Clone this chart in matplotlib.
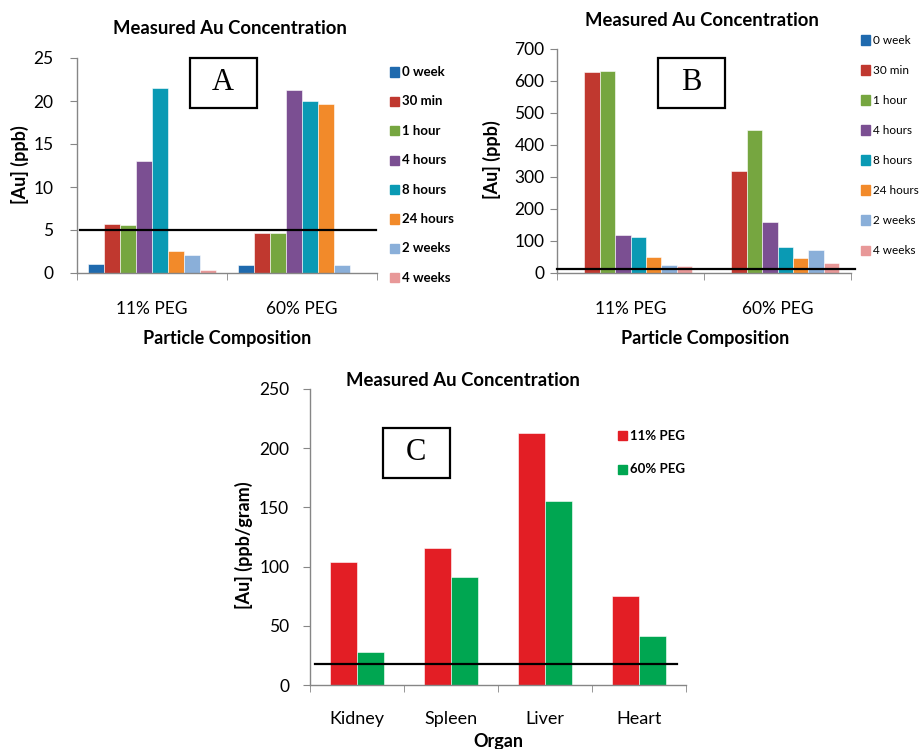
import matplotlib
matplotlib.use("Agg")
import matplotlib.pyplot as plt
import numpy as np
from matplotlib.patches import Rectangle

plt.rcParams['font.family'] = ['Lato', 'DejaVu Sans']

# ---------------- data ----------------
time_labels = ['0 week', '30 min', '1 hour', '4 hours', '8 hours', '24 hours', '2 weeks', '4 weeks']
compositions = ['11% PEG', '60% PEG']
# Panel A: [Au] (ppb)
a_11 = [1.0, 5.7, 5.6, 13.0, 21.5, 2.6, 2.1, 0.3]
a_60 = [0.95, 4.7, 4.7, 21.3, 20.0, 19.6, 0.95, 0.0]
a_threshold = 5
# Panel B: [Au] (ppb)
b_11 = [0, 628, 630, 118, 112, 50, 24, 21]
b_60 = [0, 320, 448, 160, 81, 47, 71, 31]
b_threshold = 13
# Panel C: [Au] (ppb/gram)
organs = ['Kidney', 'Spleen', 'Liver', 'Heart']
c_11 = [104, 116, 213, 75]
c_60 = [28, 91, 155, 41]
c_threshold = 18

time_colors = ['#1F6AAE', '#C0382F', '#76A640', '#7B4F92', '#0A9AB4', '#F28A2A', '#8AAFD9', '#E89898']
c_colors = ['#E31E25', '#00A651']
axis_gray = '#868686'

W, H = 921, 749
fig = plt.figure(figsize=(W / 100, H / 100), dpi=100)

def fx(px):
    return px / W

def fy(py):
    return 1 - py / H

def make_axes(l, r, b, t):
    return fig.add_axes([fx(l), fy(b), (r - l) / W, (b - t) / H])

def style_axes(ax, ncat, ylim, yticks, ypad):
    ax.set_xlim(-0.5, ncat - 0.5)
    ax.set_ylim(*ylim)
    for s in ['top', 'right']:
        ax.spines[s].set_visible(False)
    for s in ['left', 'bottom']:
        ax.spines[s].set_color(axis_gray)
        ax.spines[s].set_linewidth(1.0)
    ax.set_yticks(yticks)
    ax.tick_params(axis='y', length=5, color=axis_gray, labelsize=12.5, pad=ypad)
    ax.set_xticks(np.arange(ncat))
    ax.set_xticks(np.arange(ncat + 1) - 0.5, minor=True)
    ax.tick_params(axis='x', which='major', length=0, labelsize=12.5, pad=20)
    ax.tick_params(axis='x', which='minor', length=5, color=axis_gray)

def box_label(cx, cy, letter):
    w, h = 67, 50
    fig.patches.append(Rectangle((fx(cx - w / 2), fy(cy + h / 2)), w / W, h / H,
                                 transform=fig.transFigure, fill=False,
                                 edgecolor='black', linewidth=1.6))
    fig.text(fx(cx), fy(cy), letter, family=['Liberation Serif', 'DejaVu Serif'],
             fontsize=22, ha='center', va='center')

def time_panel(ax, v11, v60, bw, thr, xmin, xmax, legend_x, legend_y0, legend_dy, weight, lfs):
    x = np.arange(len(compositions))
    series = np.array([v11, v60]).T
    n = len(time_labels)
    for i in range(n):
        ax.bar(x + (i - (n - 1) / 2) * bw, series[i], width=bw, color=time_colors[i],
               edgecolor='white', linewidth=0.4, zorder=2)
    ax.axhline(thr, xmin=xmin, xmax=xmax, color='black', lw=1.6, zorder=3, clip_on=False)
    ax.set_xticklabels(compositions)
    for i, lab in enumerate(time_labels):
        y = legend_y0 + i * legend_dy
        fig.patches.append(Rectangle((fx(legend_x), fy(y + 4.5)), 9 / W, 9 / H,
                                     transform=fig.transFigure, color=time_colors[i]))
        fig.text(fx(legend_x + 12), fy(y), lab, fontsize=lfs, weight=weight, va='center', ha='left')

# ---------------- Panel A ----------------
axA = make_axes(77, 377, 273, 58)
style_axes(axA, 2, (0, 25), [0, 5, 10, 15, 20, 25], 12)
time_panel(axA, a_11, a_60, 0.106, a_threshold, 0.01, 0.997, 390, 72, 29.4, 'bold', 9.5)
fig.text(fx(230), fy(28), 'Measured Au Concentration', fontsize=13.3, weight='bold', ha='center', va='center')
fig.text(fx(20), fy(165), '[Au] (ppb)', fontsize=13, weight='bold', rotation=90, ha='center', va='center')
fig.text(fx(227), fy(338), 'Particle Composition', fontsize=13, weight='bold', ha='center', va='center')
box_label(223, 83, 'A')

# ---------------- Panel B ----------------
axB = make_axes(557, 851, 273, 49)
style_axes(axB, 2, (0, 700), list(range(0, 701, 100)), 4)
time_panel(axB, b_11, b_60, 0.105, b_threshold, 0.0, 1.013, 861, 40, 30, 'normal', 8.5)
fig.text(fx(702), fy(20), 'Measured Au Concentration', fontsize=13.3, weight='bold', ha='center', va='center')
fig.text(fx(492), fy(160), '[Au] (ppb)', fontsize=13, weight='bold', rotation=90, ha='center', va='center')
fig.text(fx(705), fy(338), 'Particle Composition', fontsize=13, weight='bold', ha='center', va='center')
box_label(691, 83, 'B')

# ---------------- Panel C ----------------
axC = make_axes(310, 686, 685, 389)
style_axes(axC, 4, (0, 250), [0, 50, 100, 150, 200, 250], 10)
xc = np.arange(len(organs))
bwc = 0.29
axC.bar(xc - bwc / 2, c_11, width=bwc, color=c_colors[0], edgecolor='white', linewidth=0.4, zorder=2)
axC.bar(xc + bwc / 2, c_60, width=bwc, color=c_colors[1], edgecolor='white', linewidth=0.4, zorder=2)
axC.axhline(c_threshold, xmin=0.013, xmax=0.976, color='black', lw=1.6, zorder=3, clip_on=False)
axC.set_xticklabels(organs, fontsize=13)
axC.tick_params(axis='x', which='major', pad=19)
for i, lab in enumerate(compositions):
    y = 436 + i * 33
    fig.patches.append(Rectangle((fx(618), fy(y + 4.5)), 9 / W, 9 / H,
                                 transform=fig.transFigure, color=c_colors[i]))
    fig.text(fx(630), fy(y), lab, fontsize=9.5, weight='bold', va='center', ha='left')
fig.text(fx(463), fy(381), 'Measured Au Concentration', fontsize=13.3, weight='bold', ha='center', va='center')
fig.text(fx(244), fy(545), '[Au] (ppb/gram)', fontsize=13, weight='bold', rotation=90, ha='center', va='center')
fig.text(fx(498), fy(741), 'Organ', fontsize=13, weight='bold', ha='center', va='center')
box_label(416, 453, 'C')

fig.savefig('out.png', dpi=100)
